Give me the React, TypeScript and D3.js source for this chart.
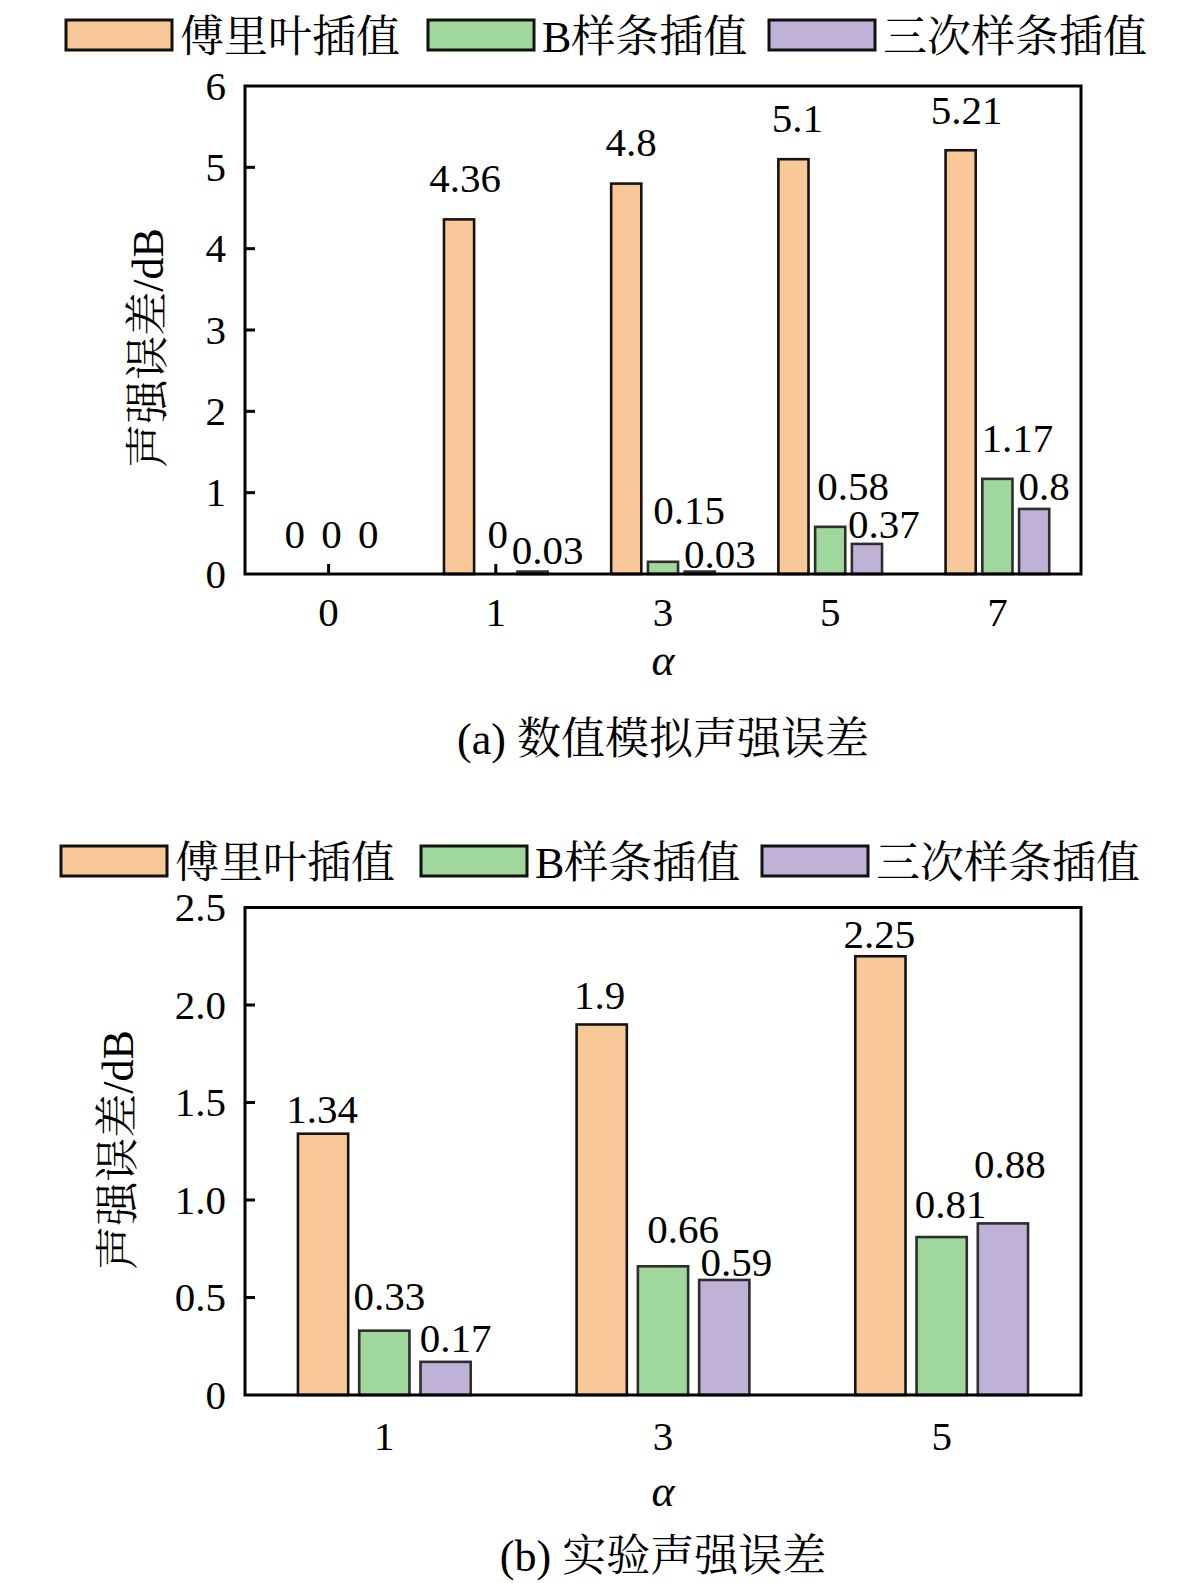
import React, { useEffect, useRef } from 'react';
import * as d3 from 'd3';

const WIDTH = 1181;
const HEIGHT = 1583;

const seriesNames = ['傅里叶插值', 'B样条插值', '三次样条插值'];
const seriesColors = ['#f9c898', '#9fd79c', '#c0b2d6'];

// (a) numerical simulation
const alphaA = ['0', '1', '3', '5', '7'];
const fourierA = [0, 4.36, 4.8, 5.1, 5.21];
const bsplineA = [0, 0, 0.15, 0.58, 1.17];
const cubicA = [0, 0.03, 0.03, 0.37, 0.8];
const yTicksA = [0, 1, 2, 3, 4, 5, 6];
const yTickLabelsA = ['0', '1', '2', '3', '4', '5', '6'];

// (b) experiment
const alphaB = ['1', '3', '5'];
const fourierB = [1.34, 1.9, 2.25];
const bsplineB = [0.33, 0.66, 0.81];
const cubicB = [0.17, 0.59, 0.88];
const yTicksB = [0, 0.5, 1, 1.5, 2, 2.5];
const yTickLabelsB = ['0', '0.5', '1.0', '1.5', '2.0', '2.5'];

// value labels were moved by hand in the original: [dx, gap above bar top]
const nudgeA = [
  [[3, 26], [6, 27], [5, 28], [4, 27], [6, 26]],
  [[3, 26], [2, 26], [26, 38], [23, 27], [20, 27]],
  [[3, 26], [15, 8], [20, 4], [17, 6], [10, 9]],
];
const nudgeB = [
  [[-1, 11], [-2, 16], [-1, 8]],
  [[5, 21], [20, 23], [9, 19]],
  [[10, 10], [12, 4], [7, 45]],
];

const LATIN = "'Liberation Serif', 'Times New Roman', serif";
const MIXED = "'Liberation Serif', 'Noto Serif CJK SC', 'Noto Sans CJK SC', serif";

interface Panel {
  categories: string[];
  series: number[][];
  nudge: number[][][];
  yTicks: number[];
  yTickLabels: string[];
  top: number;
  bottom: number;
  left: number;
  right: number;
  legendY: number;
  legendX: number[];
  yTitleX: number;
  yTitleY: number;
  xTickDy: number;
  alphaY: number;
  caption: string;
  captionY: number;
}

const panels: Panel[] = [
  {
    categories: alphaA,
    series: [fourierA, bsplineA, cubicA],
    nudge: nudgeA,
    yTicks: yTicksA,
    yTickLabels: yTickLabelsA,
    top: 86, bottom: 574, left: 245, right: 1081,
    legendY: 20, legendX: [66, 428, 769],
    yTitleX: 163, yTitleY: 348,
    xTickDy: 52, alphaY: 675,
    caption: '(a) 数值模拟声强误差', captionY: 754,
  },
  {
    categories: alphaB,
    series: [fourierB, bsplineB, cubicB],
    nudge: nudgeB,
    yTicks: yTicksB,
    yTickLabels: yTickLabelsB,
    top: 907.5, bottom: 1395, left: 245, right: 1081,
    legendY: 846, legendX: [61, 421, 762],
    yTitleX: 133, yTitleY: 1150,
    xTickDy: 55, alphaY: 1506,
    caption: '(b) 实验声强误差', captionY: 1571,
  },
];

function drawPanel(svg: d3.Selection<SVGSVGElement, unknown, null, undefined>, p: Panel) {
  const g = svg.append('g');

  const x = d3.scaleBand<string>()
    .domain(p.categories)
    .range([p.left, p.right])
    .padding(0);

  const y = d3.scaleLinear()
    .domain([p.yTicks[0], p.yTicks[p.yTicks.length - 1]])
    .range([p.bottom, p.top]);

  const groupW = x.bandwidth() * 0.62;
  const inner = d3.scaleBand<number>()
    .domain(d3.range(p.series.length))
    .range([-groupW / 2, groupW / 2])
    .paddingInner(0.18)
    .paddingOuter(0);

  // legend
  p.legendX.forEach((lx, i) => {
    g.append('rect')
      .attr('x', lx).attr('y', p.legendY)
      .attr('width', 106).attr('height', 30)
      .attr('fill', seriesColors[i])
      .attr('stroke', '#111').attr('stroke-width', 3);
    g.append('text')
      .attr('x', lx + 114).attr('y', p.legendY + 32)
      .attr('font-family', MIXED).attr('font-size', 44)
      .attr('fill', '#000')
      .text(seriesNames[i]);
  });

  // x ticks (under the bars)
  g.selectAll('.xtick')
    .data(p.categories)
    .enter()
    .append('line')
    .attr('x1', d => (x(d) || 0) + x.bandwidth() / 2)
    .attr('x2', d => (x(d) || 0) + x.bandwidth() / 2)
    .attr('y1', p.bottom).attr('y2', p.bottom - 10)
    .attr('stroke', '#000').attr('stroke-width', 3);

  // bars
  p.series.forEach((vals, si) => {
    g.selectAll(`.bar-${si}`)
      .data(vals.map((v, ci) => ({ v, c: p.categories[ci] })).filter(d => d.v > 0))
      .enter()
      .append('rect')
      .attr('x', d => (x(d.c) || 0) + x.bandwidth() / 2 + (inner(si) || 0))
      .attr('y', d => y(d.v))
      .attr('width', inner.bandwidth())
      .attr('height', d => y(0) - y(d.v))
      .attr('fill', seriesColors[si])
      .attr('stroke', si === 0 ? '#141414' : '#2e2e2e')
      .attr('stroke-width', 2.6);
  });

  // value labels
  p.series.forEach((vals, si) => {
    g.selectAll(`.lab-${si}`)
      .data(vals.map((v, ci) => ({ v, ci })))
      .enter()
      .append('text')
      .attr('x', d => (x(p.categories[d.ci]) || 0) + x.bandwidth() / 2 + (inner(si) || 0) + inner.bandwidth() / 2 + p.nudge[si][d.ci][0])
      .attr('y', d => y(d.v) - p.nudge[si][d.ci][1])
      .attr('text-anchor', 'middle')
      .attr('font-family', LATIN).attr('font-size', 41)
      .attr('fill', '#000')
      .text(d => String(d.v));
  });

  // frame
  g.append('rect')
    .attr('x', p.left).attr('y', p.top)
    .attr('width', p.right - p.left).attr('height', p.bottom - p.top)
    .attr('fill', 'none')
    .attr('stroke', '#000').attr('stroke-width', 3);

  // y ticks + labels
  p.yTicks.forEach((t, i) => {
    if (i > 0 && i < p.yTicks.length - 1) {
      g.append('line')
        .attr('x1', p.left).attr('x2', p.left + 10)
        .attr('y1', y(t)).attr('y2', y(t))
        .attr('stroke', '#000').attr('stroke-width', 3);
    }
    g.append('text')
      .attr('x', p.left - 19).attr('y', y(t) + 13.5)
      .attr('text-anchor', 'end')
      .attr('font-family', LATIN).attr('font-size', 41)
      .attr('fill', '#000')
      .text(p.yTickLabels[i]);
  });

  // x tick labels
  g.selectAll('.xlab')
    .data(p.categories)
    .enter()
    .append('text')
    .attr('x', d => (x(d) || 0) + x.bandwidth() / 2)
    .attr('y', p.bottom + p.xTickDy)
    .attr('text-anchor', 'middle')
    .attr('font-family', LATIN).attr('font-size', 41)
    .attr('fill', '#000')
    .text(d => d);

  const cx = (p.left + p.right) / 2;

  g.append('text')
    .attr('x', cx).attr('y', p.alphaY)
    .attr('text-anchor', 'middle')
    .attr('font-family', LATIN).attr('font-size', 44)
    .attr('font-style', 'italic')
    .attr('fill', '#000')
    .text('α');

  g.append('text')
    .attr('transform', `translate(${p.yTitleX},${p.yTitleY}) rotate(-90)`)
    .attr('text-anchor', 'middle')
    .attr('font-family', MIXED).attr('font-size', 44)
    .attr('fill', '#000')
    .text('声强误差/dB');

  g.append('text')
    .attr('x', cx).attr('y', p.captionY)
    .attr('text-anchor', 'middle')
    .attr('font-family', MIXED).attr('font-size', 44)
    .attr('fill', '#000')
    .text(p.caption);
}

const App: React.FC = () => {
  const svgRef = useRef<SVGSVGElement>(null);

  useEffect(() => {
    if (!svgRef.current) return;
    const svg = d3.select(svgRef.current);
    svg.selectAll('*').remove();
    svg.append('rect').attr('width', WIDTH).attr('height', HEIGHT).attr('fill', '#fff');
    panels.forEach(p => drawPanel(svg, p));
  }, []);

  return (
    <div style={{ position: 'absolute', left: 0, top: 0 }}>
      <svg ref={svgRef} width={WIDTH} height={HEIGHT} style={{ display: 'block' }} />
    </div>
  );
};

export default App;
